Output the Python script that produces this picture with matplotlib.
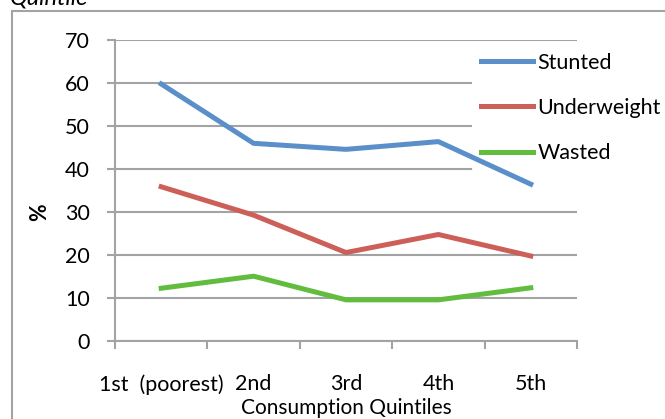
import matplotlib
matplotlib.use("agg")

import matplotlib.pyplot as plt
from matplotlib.patches import Rectangle


# Chart data.
quintiles = ["1st  (poorest)", "2nd", "3rd", "4th", "5th"]
stunted = [59.7, 45.9, 44.5, 46.3, 36.4]
underweight = [35.8, 29.2, 20.5, 24.7, 19.7]
wasted = [12.2, 15.0, 9.5, 9.5, 12.3]

plt.rcParams["font.family"] = ["Lato", "DejaVu Sans"]
plt.rcParams["font.size"] = 15.5

grey = "#a3a3a3"

fig = plt.figure(figsize=(6.65, 4.19), dpi=100)
ax = fig.add_axes([115 / 665, 1 - 340.7 / 419, 462 / 665, 301 / 419])

x = range(len(quintiles))
ax.plot(x, stunted, color="#5b8fca", lw=3.6, label="Stunted", zorder=3)
ax.plot(x, underweight, color="#cc6058", lw=3.6, label="Underweight", zorder=3)
ax.plot(x, wasted, color="#62bd3f", lw=3.6, label="Wasted", zorder=3)

ax.set_xlim(-0.5, 4.5)
ax.set_ylim(0, 70)
ax.set_yticks(range(0, 71, 10))
ax.set_xticks([i - 0.5 for i in range(6)])
ax.set_xticklabels([])
ax.set_xticks(list(x), minor=True)
ax.set_xticklabels(quintiles, minor=True)
ax.tick_params(axis="x", which="minor", length=0, pad=24)
ax.tick_params(axis="x", which="major", length=6, width=1.5, color=grey)
ax.tick_params(axis="y", length=6, width=1.5, color=grey, pad=12)

ax.grid(axis="y", color=grey, lw=1.5, zorder=0)
ax.set_axisbelow(True)
for side in ["top", "right"]:
    ax.spines[side].set_visible(False)
for side in ["left", "bottom"]:
    ax.spines[side].set_color(grey)
    ax.spines[side].set_linewidth(1.5)

ax.set_xlabel("Consumption Quintiles", fontsize=15)
ax.xaxis.set_label_coords(0.5, -0.19)
ax.set_ylabel("%", fontweight="bold")
ax.yaxis.set_label_coords(-0.14, 0.428)

leg = ax.legend(loc="upper left", bbox_to_anchor=(472 / 665, 1 - 44 / 419),
                bbox_transform=fig.transFigure, frameon=True, framealpha=1,
                edgecolor="none", facecolor="white", borderpad=0.4,
                borderaxespad=0, handlelength=2.45, handletextpad=0.18,
                labelspacing=1.18)
leg.set_zorder(1)

# outer chart border, cut off at right and bottom
fig.add_artist(Rectangle((12 / 665, -0.1), 1.0, 1.1 - 11 / 419,
                         transform=fig.transFigure, fill=False,
                         edgecolor=grey, lw=1.5))
fig.text(10 / 665, 1 - 4 / 419, "Quintile", fontsize=17, style="italic",
         va="baseline")

fig.savefig("out.png")
